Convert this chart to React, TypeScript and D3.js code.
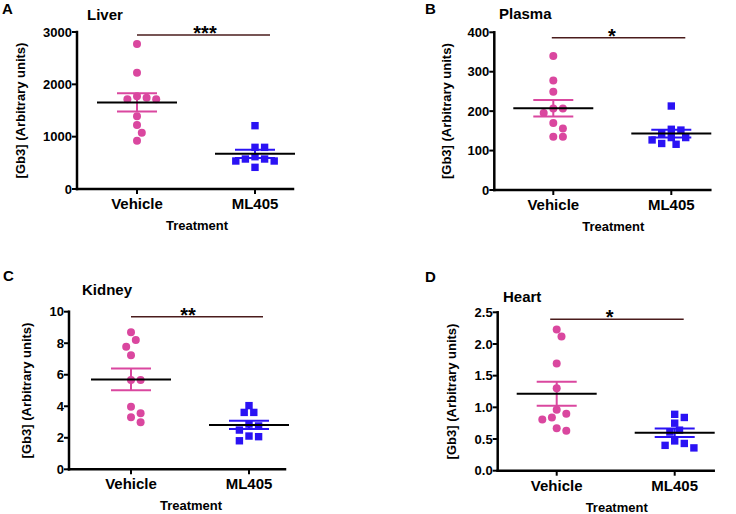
import React from "react";
import * as d3 from "d3";

const categories = ["Vehicle", "ML405"];

const liverVehicle = [2771, 2222, 1771, 1745, 1714, 1714, 1389, 1223, 1076, 923];
const liverML405 = [1210, 796, 796, 617, 573, 573, 535, 535, 414];
const plasmaVehicle = [340, 278, 249, 207, 207, 195, 170, 156, 135, 135];
const plasmaML405 = [213, 154, 152, 143, 133, 133, 127, 118, 116];
const kidneyVehicle = [8.69, 8.2, 7.78, 7.23, 5.67, 5.67, 3.97, 3.55, 3.3, 2.98];
const kidneyML405 = [4.04, 3.61, 3.61, 2.87, 2.75, 2.49, 2.11, 2.07, 1.81];
const heartVehicle = [2.23, 2.12, 1.69, 1.3, 0.96, 0.9, 0.84, 0.81, 0.67, 0.63];
const heartML405 = [0.89, 0.84, 0.75, 0.64, 0.61, 0.47, 0.43, 0.4, 0.36];

const liverTicks = [0, 1000, 2000, 3000];
const plasmaTicks = [0, 100, 200, 300, 400];
const kidneyTicks = [0, 2, 4, 6, 8, 10];
const heartTicks = [0, 0.5, 1.0, 1.5, 2.0, 2.5];

const panelLetters = ["A", "B", "C", "D"];
const panelTitles = ["Liver", "Plasma", "Kidney", "Heart"];
const significance = ["***", "*", "**", "*"];
const sigLevels = [2943, 386, 9.68, 2.39];
const yAxisLabel = "[Gb3] (Arbitrary units)";
const xAxisLabel = "Treatment";

const VEH_COLOR = "#DA479F";
const ML_COLOR = "#2A12F4";
const SIG_COLOR = "#4A1C1C";
const FONT = "'Liberation Sans', Arial, Helvetica, sans-serif";

type Panel = {
  letter: string;
  title: string;
  vehicle: number[];
  ml: number[];
  ticks: number[];
  tickFmt: (v: number) => string;
  sig: string;
  sigLevel: number;
  x0: number;
  yTop: number;
  yBottom: number;
  catOffset: number;
  axisLen: number;
  letterPos: [number, number];
  titlePos: [number, number];
  yLabelX: number;
  sigStart: number;
  sigEnd: number;
  starDx: number;
};

const panels: Panel[] = [
  {
    letter: panelLetters[0], title: panelTitles[0], vehicle: liverVehicle, ml: liverML405,
    ticks: liverTicks, tickFmt: (v) => d3.format("d")(v), sig: significance[0], sigLevel: sigLevels[0],
    x0: 77, yTop: 32, yBottom: 189, catOffset: 60, axisLen: 216,
    letterPos: [2, 14], titlePos: [87, 20], yLabelX: 25, sigStart: 0, sigEnd: 15, starDx: 68,
  },
  {
    letter: panelLetters[1], title: panelTitles[1], vehicle: plasmaVehicle, ml: plasmaML405,
    ticks: plasmaTicks, tickFmt: (v) => d3.format("d")(v), sig: significance[1], sigLevel: sigLevels[1],
    x0: 494.3, yTop: 32.3, yBottom: 190, catOffset: 59, axisLen: 216,
    letterPos: [425, 14], titlePos: [499, 18.5], yLabelX: 451, sigStart: -1.5, sigEnd: 14, starDx: 58.5,
  },
  {
    letter: panelLetters[2], title: panelTitles[2], vehicle: kidneyVehicle, ml: kidneyML405,
    ticks: kidneyTicks, tickFmt: (v) => d3.format("d")(v), sig: significance[2], sigLevel: sigLevels[2],
    x0: 69, yTop: 311.7, yBottom: 469.3, catOffset: 62, axisLen: 216,
    letterPos: [3, 281], titlePos: [82, 295], yLabelX: 31, sigStart: 0, sigEnd: 14, starDx: 57,
  },
  {
    letter: panelLetters[3], title: panelTitles[3], vehicle: heartVehicle, ml: heartML405,
    ticks: heartTicks, tickFmt: (v) => d3.format(".1f")(v), sig: significance[3], sigLevel: sigLevels[3],
    x0: 497.7, yTop: 312.3, yBottom: 470.7, catOffset: 59, axisLen: 216,
    letterPos: [425, 282], titlePos: [503, 302], yLabelX: 456, sigStart: -6.5, sigEnd: 9, starDx: 53,
  },
];

function swarm(values: number[], y: (v: number) => number, d = 8.2, h = 4.8): number[] {
  const idx = values.map((_, i) => i).sort((a, b) => values[b] - values[a]);
  const placed: { x: number; y: number }[] = [];
  const out: number[] = new Array(values.length).fill(0);
  for (const i of idx) {
    const py = y(values[i]);
    for (let k = 0; k < 60; k++) {
      const off = k === 0 ? 0 : (k % 2 === 1 ? 1 : -1) * Math.ceil(k / 2) * h;
      if (placed.every((p) => Math.hypot(p.x - off, p.y - py) >= d)) {
        placed.push({ x: off, y: py });
        out[i] = off;
        break;
      }
    }
  }
  return out;
}

function Group({ values, cx, y, color, square }: { values: number[]; cx: number; y: d3.ScaleLinear<number, number>; color: string; square: boolean }) {
  const m = d3.mean(values) as number;
  const sem = (d3.deviation(values) as number) / Math.sqrt(values.length);
  const offs = swarm(values, y);
  const s = 7.4;
  return (
    <g>
      {values.map((v, i) =>
        square ? (
          <rect key={i} x={cx + offs[i] - s / 2} y={y(v) - s / 2} width={s} height={s} fill={color} />
        ) : (
          <circle key={i} cx={cx + offs[i]} cy={y(v)} r={4} fill={color} />
        )
      )}
      <line x1={cx} x2={cx} y1={y(m + sem)} y2={y(m - sem)} stroke={color} strokeWidth={2} />
      <line x1={cx - 20} x2={cx + 20} y1={y(m + sem)} y2={y(m + sem)} stroke={color} strokeWidth={2} />
      <line x1={cx - 20} x2={cx + 20} y1={y(m - sem)} y2={y(m - sem)} stroke={color} strokeWidth={2} />
      <line x1={cx - 40} x2={cx + 40} y1={y(m)} y2={y(m)} stroke="#000" strokeWidth={2} />
    </g>
  );
}

function PanelView({ p }: { p: Panel }) {
  const y = d3.scaleLinear().domain([p.ticks[0], p.ticks[p.ticks.length - 1]]).range([p.yBottom, p.yTop]);
  const x = d3.scalePoint<string>().domain(categories).range([p.x0 + p.catOffset, p.x0 + p.catOffset + 118]);
  const xv = x("Vehicle") as number;
  const xm = x("ML405") as number;
  const yMid = (p.yTop + p.yBottom) / 2;
  const sigY = y(p.sigLevel);
  return (
    <g fontFamily={FONT} fontWeight="bold" fill="#000">
      <text x={p.letterPos[0]} y={p.letterPos[1]} fontSize={15}>{p.letter}</text>
      <text x={p.titlePos[0]} y={p.titlePos[1]} fontSize={15}>{p.title}</text>
      <line x1={p.x0} x2={p.x0} y1={p.yTop} y2={p.yBottom} stroke="#000" strokeWidth={2.5} strokeLinecap="square" />
      {p.ticks.map((t) => (
        <g key={t}>
          <line x1={p.x0 - 5} x2={p.x0} y1={y(t)} y2={y(t)} stroke="#000" strokeWidth={2} />
          <text x={p.x0 - 5} y={y(t)} dy="0.36em" textAnchor="end" fontSize={13}>{p.tickFmt(t)}</text>
        </g>
      ))}
      <line x1={p.x0} x2={p.x0 + p.axisLen} y1={p.yBottom} y2={p.yBottom} stroke="#000" strokeWidth={2.5} strokeLinecap="square" />
      {categories.map((c) => (
        <g key={c}>
          <line x1={x(c)} x2={x(c)} y1={p.yBottom} y2={p.yBottom + 5} stroke="#000" strokeWidth={2} />
          <text x={x(c)} y={p.yBottom + 20} textAnchor="middle" fontSize={15}>{c}</text>
        </g>
      ))}
      <text x={(xv + xm) / 2 + 1} y={p.yBottom + 41} textAnchor="middle" fontSize={13}>{xAxisLabel}</text>
      <text transform={`translate(${p.yLabelX},${yMid}) rotate(-90)`} textAnchor="middle" fontSize={13}>{yAxisLabel}</text>
      <line x1={xv + p.sigStart} x2={xm + p.sigEnd} y1={sigY} y2={sigY} stroke={SIG_COLOR} strokeWidth={1.6} />
      <text x={xv + p.starDx} y={sigY + 5} textAnchor="middle" fontSize={20}>{p.sig}</text>
      <Group values={p.vehicle} cx={xv} y={y} color={VEH_COLOR} square={false} />
      <Group values={p.ml} cx={xm} y={y} color={ML_COLOR} square={true} />
    </g>
  );
}

export default function App() {
  return (
    <svg width={736} height={514} style={{ position: "absolute", left: 0, top: 0, background: "#fff" }}>
      <rect width={736} height={514} fill="#fff" />
      {panels.map((p) => (
        <PanelView key={p.letter} p={p} />
      ))}
    </svg>
  );
}
